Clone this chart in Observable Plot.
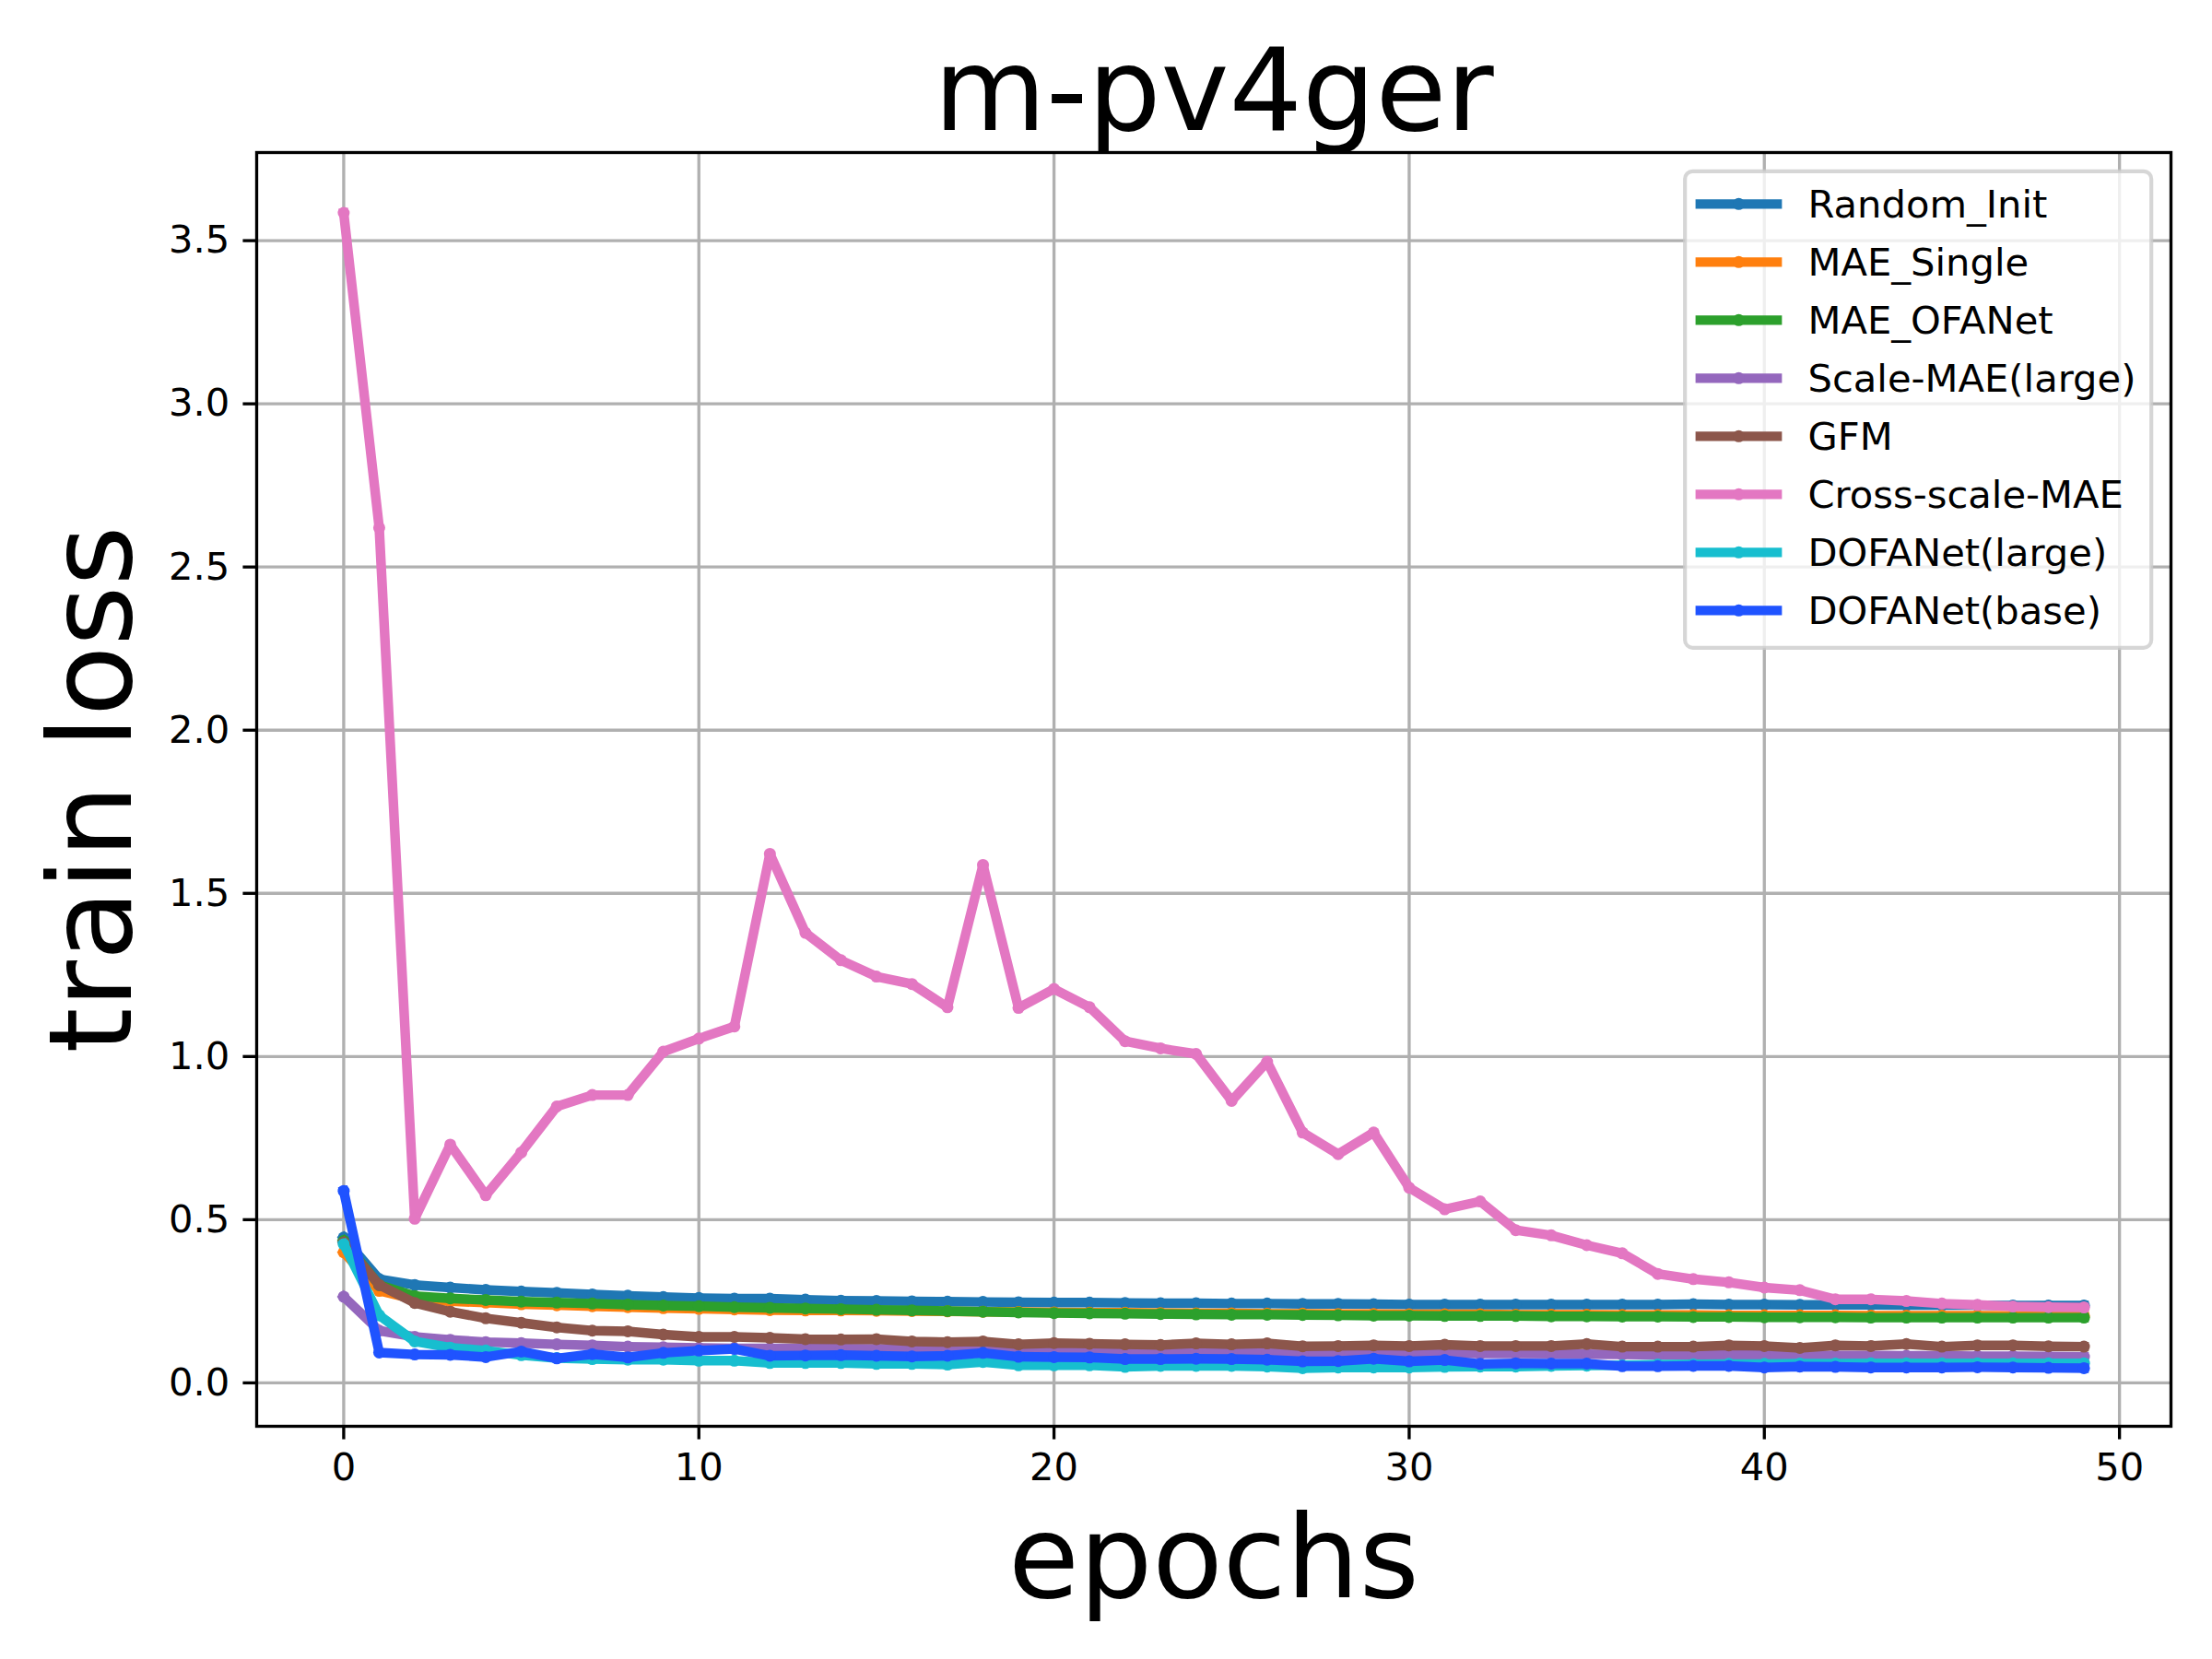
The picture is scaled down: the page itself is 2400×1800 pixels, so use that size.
<!DOCTYPE html>
<html>
<head>
<meta charset="utf-8">
<script src="https://cdn.jsdelivr.net/npm/d3@7"></script>
<script src="https://cdn.jsdelivr.net/npm/@observablehq/plot@0.6"></script>
<style>
  html, body { margin: 0; padding: 0; background: #ffffff; }
  #chart svg { display: block; }
</style>
</head>
<body>
<div id="chart"></div>
<script>
// ---------------- data ----------------
const epochs = [0,1,2,3,4,5,6,7,8,9,10,11,12,13,14,15,16,17,18,19,20,21,22,23,24,25,26,27,28,29,30,31,32,33,34,35,36,37,38,39,40,41,42,43,44,45,46,47,48,49];

const randomInit = [0.445,0.318,0.300,0.292,0.285,0.280,0.276,0.271,0.267,0.263,0.260,0.258,0.258,0.255,0.252,0.251,0.250,0.249,0.248,0.247,0.246,0.246,0.245,0.244,0.244,0.243,0.243,0.242,0.242,0.241,0.240,0.240,0.240,0.240,0.240,0.240,0.240,0.240,0.241,0.240,0.240,0.239,0.239,0.239,0.238,0.238,0.238,0.237,0.237,0.237];

const maeSingle = [0.400,0.282,0.256,0.250,0.246,0.241,0.238,0.235,0.232,0.229,0.227,0.225,0.223,0.222,0.222,0.221,0.220,0.219,0.218,0.217,0.216,0.215,0.215,0.214,0.213,0.213,0.212,0.212,0.211,0.211,0.210,0.210,0.210,0.209,0.209,0.209,0.208,0.208,0.208,0.207,0.207,0.207,0.207,0.206,0.206,0.206,0.206,0.205,0.205,0.205];

const maeOFANet = [0.435,0.300,0.266,0.259,0.254,0.249,0.246,0.243,0.240,0.237,0.235,0.232,0.230,0.228,0.226,0.224,0.222,0.220,0.218,0.216,0.214,0.213,0.212,0.211,0.210,0.209,0.209,0.208,0.207,0.206,0.206,0.205,0.205,0.205,0.204,0.204,0.203,0.203,0.202,0.202,0.201,0.201,0.201,0.200,0.200,0.200,0.200,0.200,0.200,0.200];

const scaleMAE = [0.264,0.160,0.141,0.132,0.125,0.122,0.118,0.115,0.111,0.109,0.107,0.106,0.106,0.106,0.105,0.104,0.104,0.103,0.102,0.102,0.101,0.100,0.099,0.098,0.097,0.095,0.094,0.093,0.092,0.092,0.092,0.091,0.090,0.090,0.089,0.088,0.087,0.086,0.086,0.085,0.085,0.085,0.084,0.084,0.083,0.083,0.082,0.082,0.081,0.080];

const gfm = [0.430,0.300,0.245,0.218,0.198,0.184,0.170,0.160,0.158,0.148,0.141,0.141,0.138,0.134,0.133,0.134,0.127,0.125,0.127,0.118,0.122,0.120,0.118,0.116,0.121,0.118,0.121,0.112,0.113,0.115,0.113,0.117,0.113,0.113,0.113,0.119,0.111,0.111,0.111,0.115,0.113,0.107,0.115,0.113,0.119,0.111,0.115,0.115,0.112,0.111];

const crossScaleMAE = [3.585,2.620,0.503,0.730,0.575,0.706,0.847,0.882,0.882,1.015,1.055,1.092,1.621,1.379,1.295,1.245,1.222,1.151,1.587,1.149,1.207,1.151,1.047,1.025,1.008,0.864,0.984,0.767,0.701,0.767,0.598,0.532,0.556,0.468,0.452,0.422,0.397,0.334,0.318,0.308,0.292,0.284,0.256,0.256,0.251,0.243,0.239,0.234,0.232,0.231];

const dofaLarge = [0.425,0.207,0.127,0.108,0.099,0.085,0.076,0.073,0.071,0.071,0.068,0.068,0.061,0.061,0.061,0.058,0.058,0.056,0.064,0.054,0.054,0.054,0.049,0.052,0.052,0.052,0.050,0.045,0.047,0.047,0.047,0.049,0.050,0.050,0.052,0.053,0.054,0.056,0.057,0.058,0.058,0.059,0.059,0.060,0.060,0.060,0.060,0.060,0.060,0.060];

const dofaBase = [0.588,0.093,0.087,0.086,0.079,0.096,0.075,0.088,0.078,0.092,0.099,0.104,0.083,0.084,0.085,0.083,0.081,0.083,0.092,0.080,0.079,0.078,0.073,0.073,0.074,0.073,0.071,0.066,0.067,0.074,0.066,0.070,0.058,0.060,0.059,0.059,0.051,0.051,0.052,0.052,0.047,0.050,0.049,0.047,0.047,0.047,0.048,0.047,0.046,0.045];

const seriesNames = ["Random_Init","MAE_Single","MAE_OFANet","Scale-MAE(large)","GFM","Cross-scale-MAE","DOFANet(large)","DOFANet(base)"];
const seriesColors = ["#1f77b4","#ff7f0e","#2ca02c","#9467bd","#8c564b","#e377c2","#17becf","#1f53ff"];
const seriesValues = [randomInit, maeSingle, maeOFANet, scaleMAE, gfm, crossScaleMAE, dofaLarge, dofaBase];

const xTicks = [0,10,20,30,40,50];
const yTicks = [0,0.5,1.0,1.5,2.0,2.5,3.0,3.5];

const titleText = "m-pv4ger";
const xLabelText = "epochs";
const yLabelText = "train loss";

// ---------------- layout ----------------
const W = 2400, H = 1800;
const mL = 278, mR = 45, mT = 165, mB = 253;
const pt = 300 / 72;             // px per point
const lw = 2.5 * pt;             // line width
const spineW = 0.8 * pt;
const tickFont = 10 * pt;
const labelFont = 30 * pt;

const rows = seriesNames.flatMap((name, k) =>
  seriesValues[k].map((v, i) => ({series: name, epoch: epochs[i], loss: v}))
);

const seriesMarks = seriesNames.flatMap((name, k) => {
  const d = rows.filter(r => r.series === name);
  return [
    Plot.line(d, {x: "epoch", y: "loss", stroke: seriesColors[k], strokeWidth: lw,
                  strokeLinecap: "square", strokeLinejoin: "round"}),
    Plot.dot(d, {x: "epoch", y: "loss", r: 6.5, fill: seriesColors[k], stroke: "none"})
  ];
});

const svg = Plot.plot({
  width: W,
  height: H,
  marginLeft: mL,
  marginRight: mR,
  marginTop: mT,
  marginBottom: mB,
  style: {background: "#ffffff", fontFamily: "'DejaVu Sans', sans-serif", color: "#000000"},
  x: {domain: [-2.45, 51.45]},
  y: {domain: [-0.133, 3.77]},
  marks: [
    Plot.gridX(xTicks, {stroke: "#b0b0b0", strokeOpacity: 1, strokeWidth: spineW}),
    Plot.gridY(yTicks, {stroke: "#b0b0b0", strokeOpacity: 1, strokeWidth: spineW}),
    ...seriesMarks,
    Plot.frame({stroke: "#000000", strokeWidth: spineW}),
    Plot.axisX({ticks: xTicks, tickSize: 3.5 * pt, tickPadding: 3.5 * pt, fontSize: tickFont,
                strokeWidth: spineW, label: null, tickFormat: d3.format("d")}),
    Plot.axisY({ticks: yTicks, tickSize: 3.5 * pt, tickPadding: 3.5 * pt, fontSize: tickFont,
                strokeWidth: spineW, label: null, tickFormat: d3.format(".1f")}),
    Plot.text([titleText], {frameAnchor: "top", dy: -25, lineAnchor: "bottom", textAnchor: "middle",
                            fontSize: labelFont, fill: "#000000"}),
    Plot.text([xLabelText], {frameAnchor: "bottom", dy: 185, lineAnchor: "bottom", textAnchor: "middle",
                             fontSize: labelFont, fill: "#000000"}),
    Plot.text([yLabelText], {frameAnchor: "left", dx: -137, lineAnchor: "bottom", textAnchor: "middle",
                             rotate: -90, fontSize: labelFont, fill: "#000000"})
  ]
});

// ---------------- legend (upper right, inside axes) ----------------
const fs = tickFont;
const legRight = W - mR - 0.5 * fs;
const legTop = mT + 0.5 * fs;
const legW = 506, rowH = 63.0;
const legH = 517;
const legLeft = legRight - legW;
const g = d3.select(svg).append("g")
  .attr("font-family", "'DejaVu Sans', sans-serif")
  .attr("text-anchor", "start");
g.append("rect")
  .attr("x", legLeft).attr("y", legTop).attr("width", legW).attr("height", legH)
  .attr("rx", 0.2 * fs).attr("ry", 0.2 * fs)
  .attr("fill", "#ffffff").attr("fill-opacity", 0.8)
  .attr("stroke", "#cccccc").attr("stroke-opacity", 0.8).attr("stroke-width", 1 * pt);
seriesNames.forEach((name, i) => {
  const cy = legTop + 35.5 + i * rowH;
  const x0 = legLeft + 0.4 * fs;
  const x1 = x0 + 2.0 * fs;
  g.append("line").attr("x1", x0).attr("x2", x1).attr("y1", cy).attr("y2", cy)
    .attr("stroke", seriesColors[i]).attr("stroke-width", lw).attr("stroke-linecap", "square");
  g.append("circle").attr("cx", (x0 + x1) / 2).attr("cy", cy).attr("r", 6.5).attr("fill", seriesColors[i]);
  g.append("text").attr("x", x1 + 0.8 * fs).attr("y", cy + 15).attr("font-size", fs)
    .attr("text-anchor", "start").attr("fill", "#000000").text(name);
});

document.getElementById("chart").appendChild(svg);
</script>
</body>
</html>
